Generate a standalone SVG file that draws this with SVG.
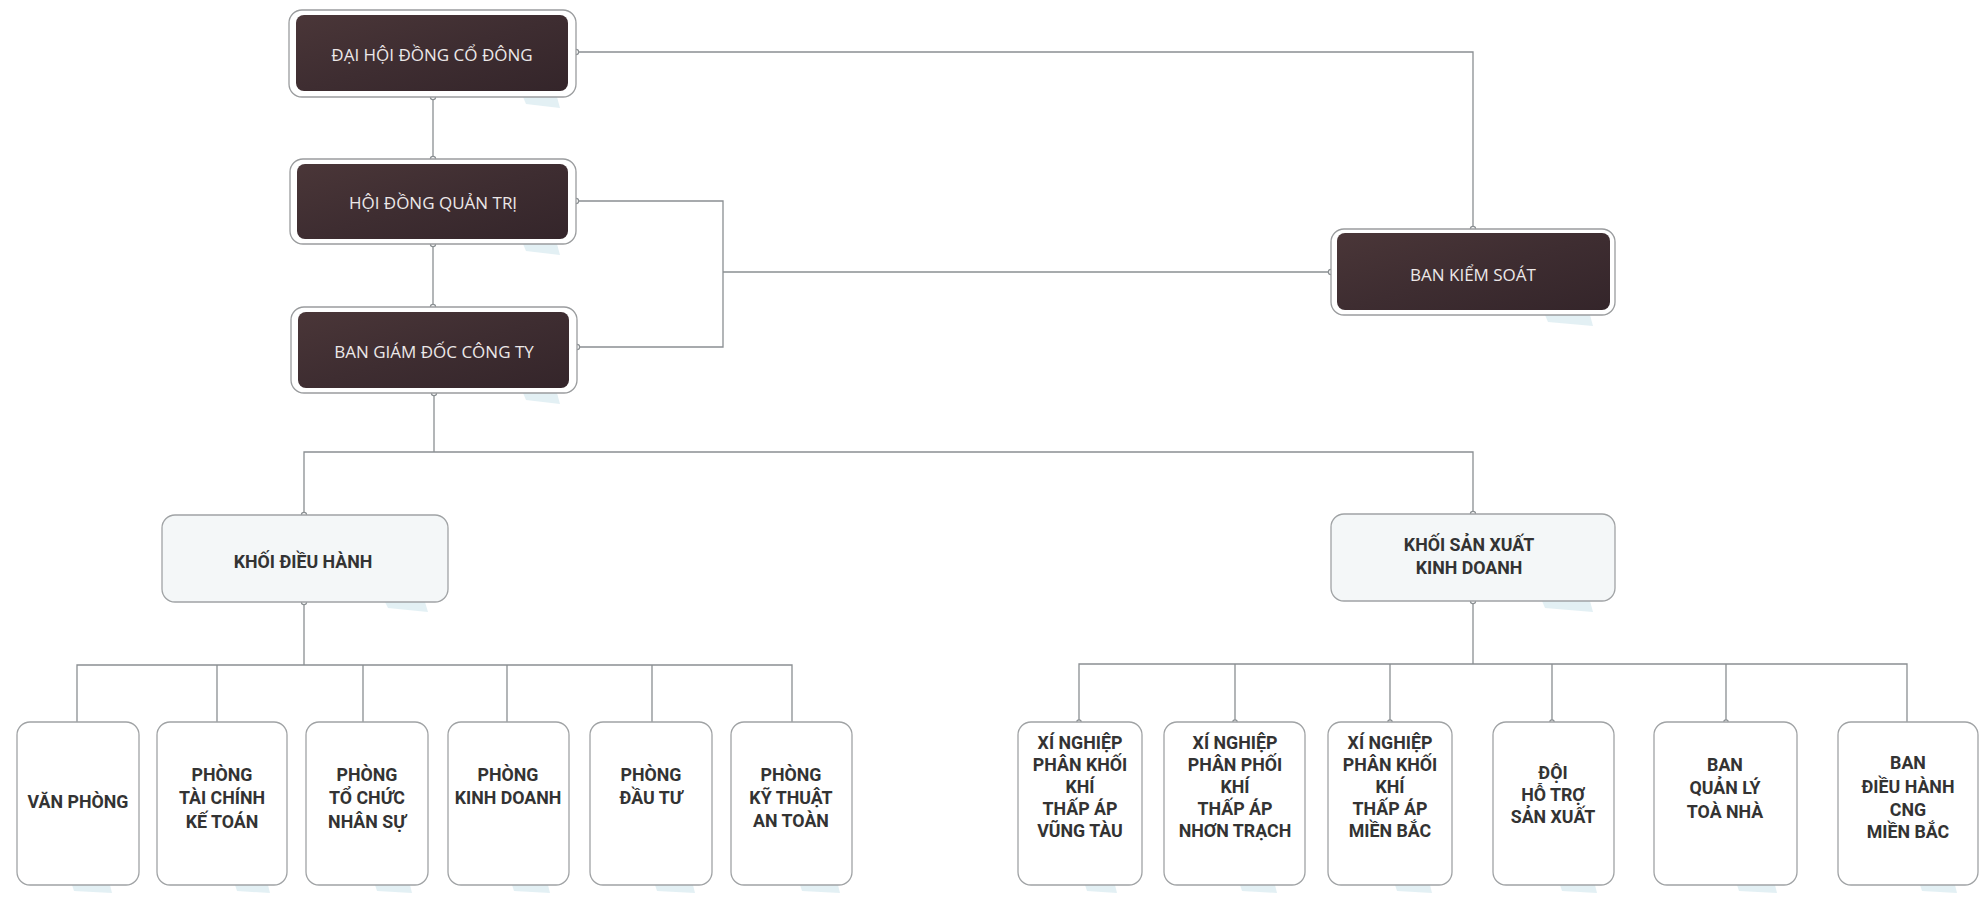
<svg xmlns="http://www.w3.org/2000/svg" width="1986" height="899" viewBox="0 0 1986 899">
<defs>
<linearGradient id="dk" x1="0" y1="0" x2="1" y2="1">
<stop offset="0" stop-color="#4a3638"/>
<stop offset="0.5" stop-color="#3e2d31"/>
<stop offset="1" stop-color="#34252a"/>
</linearGradient>
<style>
.ln{fill:none;stroke:#8a8f92;stroke-width:1.3}
.dot{fill:#fff;stroke:#8a8f92;stroke-width:1.2}
.outer{fill:#fff;stroke:#9a9c9e;stroke-width:1.3}
.inner{fill:url(#dk)}
.lt{font-family:"Open Sans","Liberation Sans",sans-serif;font-size:17px;fill:#ece8e8;text-anchor:middle}
.mid{fill:#f4f7f8;stroke:#a0a3a5;stroke-width:1.3}
.box{fill:#fff;stroke:#a0a3a5;stroke-width:1.3}
.bt{font-family:Roboto,"Liberation Sans",sans-serif;font-weight:bold;font-size:17.8px;fill:#333;text-anchor:middle}
.sh{fill:#dcecf1;opacity:0.8}
</style>
</defs>
<rect width="1986" height="899" fill="#fff"/>

<g id="connectors">
<path class="ln" d="M433 97V159"/>
<path class="ln" d="M433 244V307"/>
<path class="ln" d="M576 52H1473V229"/>
<path class="ln" d="M576 201H723V347H577"/>
<path class="ln" d="M723 272H1331"/>
<path class="ln" d="M434 393V452"/>
<path class="ln" d="M304 515V452H1473V514"/>
<path class="ln" d="M304 602V665"/>
<path class="ln" d="M77 722V665H792V722M217 665V722M363 665V722M507 665V722M652 665V722"/>
<path class="ln" d="M1473 601V664"/>
<path class="ln" d="M1079 722V664H1907V722M1235 664V722M1390 664V722M1552 664V722M1726 664V722"/>
<g>
<circle class="dot" cx="433" cy="97" r="2.6"/>
<circle class="dot" cx="433" cy="159" r="2.6"/>
<circle class="dot" cx="433" cy="244" r="2.6"/>
<circle class="dot" cx="433" cy="307" r="2.6"/>
<circle class="dot" cx="576" cy="52" r="2.6"/>
<circle class="dot" cx="576" cy="201" r="2.6"/>
<circle class="dot" cx="577" cy="347" r="2.6"/>
<circle class="dot" cx="1473" cy="229" r="2.6"/>
<circle class="dot" cx="1331" cy="272" r="2.6"/>
<circle class="dot" cx="434" cy="393" r="2.6"/>
<circle class="dot" cx="304" cy="515" r="2.6"/>
<circle class="dot" cx="1473" cy="514" r="2.6"/>
<circle class="dot" cx="304" cy="602" r="2.6"/>
<circle class="dot" cx="1473" cy="601" r="2.6"/>
<circle class="dot" cx="1079" cy="722" r="2.2"/>
<circle class="dot" cx="1235" cy="722" r="2.2"/>
<circle class="dot" cx="1390" cy="722" r="2.2"/>
<circle class="dot" cx="1552" cy="722" r="2.2"/>
<circle class="dot" cx="1726" cy="722" r="2.2"/>
</g>
</g>

<g id="dai-hoi-dong-co-dong">
<polygon class="sh" points="523,97 557,97 560,108 526,104"/>
<rect class="outer" x="289" y="10" width="287" height="87" rx="13"/>
<rect class="inner" x="296" y="15" width="272" height="76" rx="8"/>
<text class="lt" x="432" y="61">ĐẠI HỘI ĐỒNG CỔ ĐÔNG</text>
</g>
<g id="hoi-dong-quan-tri">
<polygon class="sh" points="523,244 557,244 560,255 526,251"/>
<rect class="outer" x="290" y="159" width="286" height="85" rx="13"/>
<rect class="inner" x="297" y="164" width="271" height="75" rx="8"/>
<text class="lt" x="433" y="209">HỘI ĐỒNG QUẢN TRỊ</text>
</g>
<g id="ban-giam-doc">
<polygon class="sh" points="523,393 557,393 560,404 526,400"/>
<rect class="outer" x="291" y="307" width="286" height="86" rx="13"/>
<rect class="inner" x="298" y="312" width="271" height="76" rx="8"/>
<text class="lt" x="434" y="358">BAN GIÁM ĐỐC CÔNG TY</text>
</g>
<g id="ban-kiem-soat">
<polygon class="sh" points="1545,315 1590,315 1593,326 1548,322"/>
<rect class="outer" x="1331" y="229" width="284" height="86" rx="13"/>
<rect class="inner" x="1337" y="233" width="273" height="77" rx="8"/>
<text class="lt" x="1473" y="281">BAN KIỂM SOÁT</text>
</g>

<g id="khoi-dieu-hanh">
<polygon class="sh" points="385,602 425,602 428,612 388,608"/>
<rect class="mid" x="162" y="515" width="286" height="87" rx="13"/>
<text class="bt" x="303" y="568">KHỐI ĐIỀU HÀNH</text>
</g>
<g id="khoi-san-xuat-kinh-doanh">
<polygon class="sh" points="1542,601 1590,601 1593,612 1545,608"/>
<rect class="mid" x="1331" y="514" width="284" height="87" rx="13"/>
<text class="bt" x="1469" y="551">KHỐI SẢN XUẤT</text>
<text class="bt" x="1469" y="574">KINH DOANH</text>
</g>

<g id="van-phong">
<polygon class="sh" points="72,885 110,885 112,893 74,891"/>
<rect class="box" x="17" y="722" width="122" height="163" rx="13"/>
<text class="bt" x="78" y="808">VĂN PHÒNG</text>
</g>
<g id="phong-tai-chinh-ke-toan">
<polygon class="sh" points="235,885 268,885 270,893 237,891"/>
<rect class="box" x="157" y="722" width="130" height="163" rx="13"/>
<text class="bt" x="222" y="781">PHÒNG</text>
<text class="bt" x="222" y="804">TÀI CHÍNH</text>
<text class="bt" x="222" y="828">KẾ TOÁN</text>
</g>
<g id="phong-to-chuc-nhan-su">
<polygon class="sh" points="375,885 410,885 412,893 377,891"/>
<rect class="box" x="306" y="722" width="122" height="163" rx="13"/>
<text class="bt" x="367" y="781">PHÒNG</text>
<text class="bt" x="367" y="804">TỔ CHỨC</text>
<text class="bt" x="367" y="828">NHÂN SỰ</text>
</g>
<g id="phong-kinh-doanh">
<polygon class="sh" points="512,885 548,885 550,893 514,891"/>
<rect class="box" x="448" y="722" width="121" height="163" rx="13"/>
<text class="bt" x="508" y="781">PHÒNG</text>
<text class="bt" x="508" y="804">KINH DOANH</text>
</g>
<g id="phong-dau-tu">
<polygon class="sh" points="655,885 693,885 695,893 657,891"/>
<rect class="box" x="590" y="722" width="122" height="163" rx="13"/>
<text class="bt" x="651" y="781">PHÒNG</text>
<text class="bt" x="651" y="804">ĐẦU TƯ</text>
</g>
<g id="phong-ky-thuat-an-toan">
<polygon class="sh" points="800,885 838,885 840,893 802,891"/>
<rect class="box" x="731" y="722" width="121" height="163" rx="13"/>
<text class="bt" x="791" y="781">PHÒNG</text>
<text class="bt" x="791" y="804">KỸ THUẬT</text>
<text class="bt" x="791" y="827">AN TOÀN</text>
</g>

<g id="xn-vung-tau">
<polygon class="sh" points="1085,885 1115,885 1117,893 1087,891"/>
<rect class="box" x="1018" y="722" width="124" height="163" rx="13"/>
<text class="bt" x="1080" y="749">XÍ NGHIỆP</text>
<text class="bt" x="1080" y="771">PHÂN KHỐI</text>
<text class="bt" x="1080" y="793">KHÍ</text>
<text class="bt" x="1080" y="815">THẤP ÁP</text>
<text class="bt" x="1080" y="837">VŨNG TÀU</text>
</g>
<g id="xn-nhon-trach">
<polygon class="sh" points="1240,885 1275,885 1277,893 1242,891"/>
<rect class="box" x="1164" y="722" width="141" height="163" rx="13"/>
<text class="bt" x="1235" y="749">XÍ NGHIỆP</text>
<text class="bt" x="1235" y="771">PHÂN PHỐI</text>
<text class="bt" x="1235" y="793">KHÍ</text>
<text class="bt" x="1235" y="815">THẤP ÁP</text>
<text class="bt" x="1235" y="837">NHƠN TRẠCH</text>
</g>
<g id="xn-mien-bac">
<polygon class="sh" points="1395,885 1430,885 1432,893 1397,891"/>
<rect class="box" x="1328" y="722" width="124" height="163" rx="13"/>
<text class="bt" x="1390" y="749">XÍ NGHIỆP</text>
<text class="bt" x="1390" y="771">PHÂN KHỐI</text>
<text class="bt" x="1390" y="793">KHÍ</text>
<text class="bt" x="1390" y="815">THẤP ÁP</text>
<text class="bt" x="1390" y="837">MIỀN BẮC</text>
</g>
<g id="doi-ho-tro-san-xuat">
<polygon class="sh" points="1560,885 1595,885 1597,893 1562,891"/>
<rect class="box" x="1493" y="722" width="121" height="163" rx="13"/>
<text class="bt" x="1553" y="779">ĐỘI</text>
<text class="bt" x="1553" y="801">HỖ TRỢ</text>
<text class="bt" x="1553" y="823">SẢN XUẤT</text>
</g>
<g id="ban-quan-ly-toa-nha">
<polygon class="sh" points="1737,885 1775,885 1777,893 1739,891"/>
<rect class="box" x="1654" y="722" width="143" height="163" rx="13"/>
<text class="bt" x="1725" y="771">BAN</text>
<text class="bt" x="1725" y="794">QUẢN LÝ</text>
<text class="bt" x="1725" y="818">TOÀ NHÀ</text>
</g>
<g id="ban-dieu-hanh-cng-mien-bac">
<polygon class="sh" points="1920,885 1955,885 1957,893 1922,891"/>
<rect class="box" x="1838" y="722" width="140" height="163" rx="13"/>
<text class="bt" x="1908" y="769">BAN</text>
<text class="bt" x="1908" y="793">ĐIỀU HÀNH</text>
<text class="bt" x="1908" y="816">CNG</text>
<text class="bt" x="1908" y="838">MIỀN BẮC</text>
</g>
</svg>
